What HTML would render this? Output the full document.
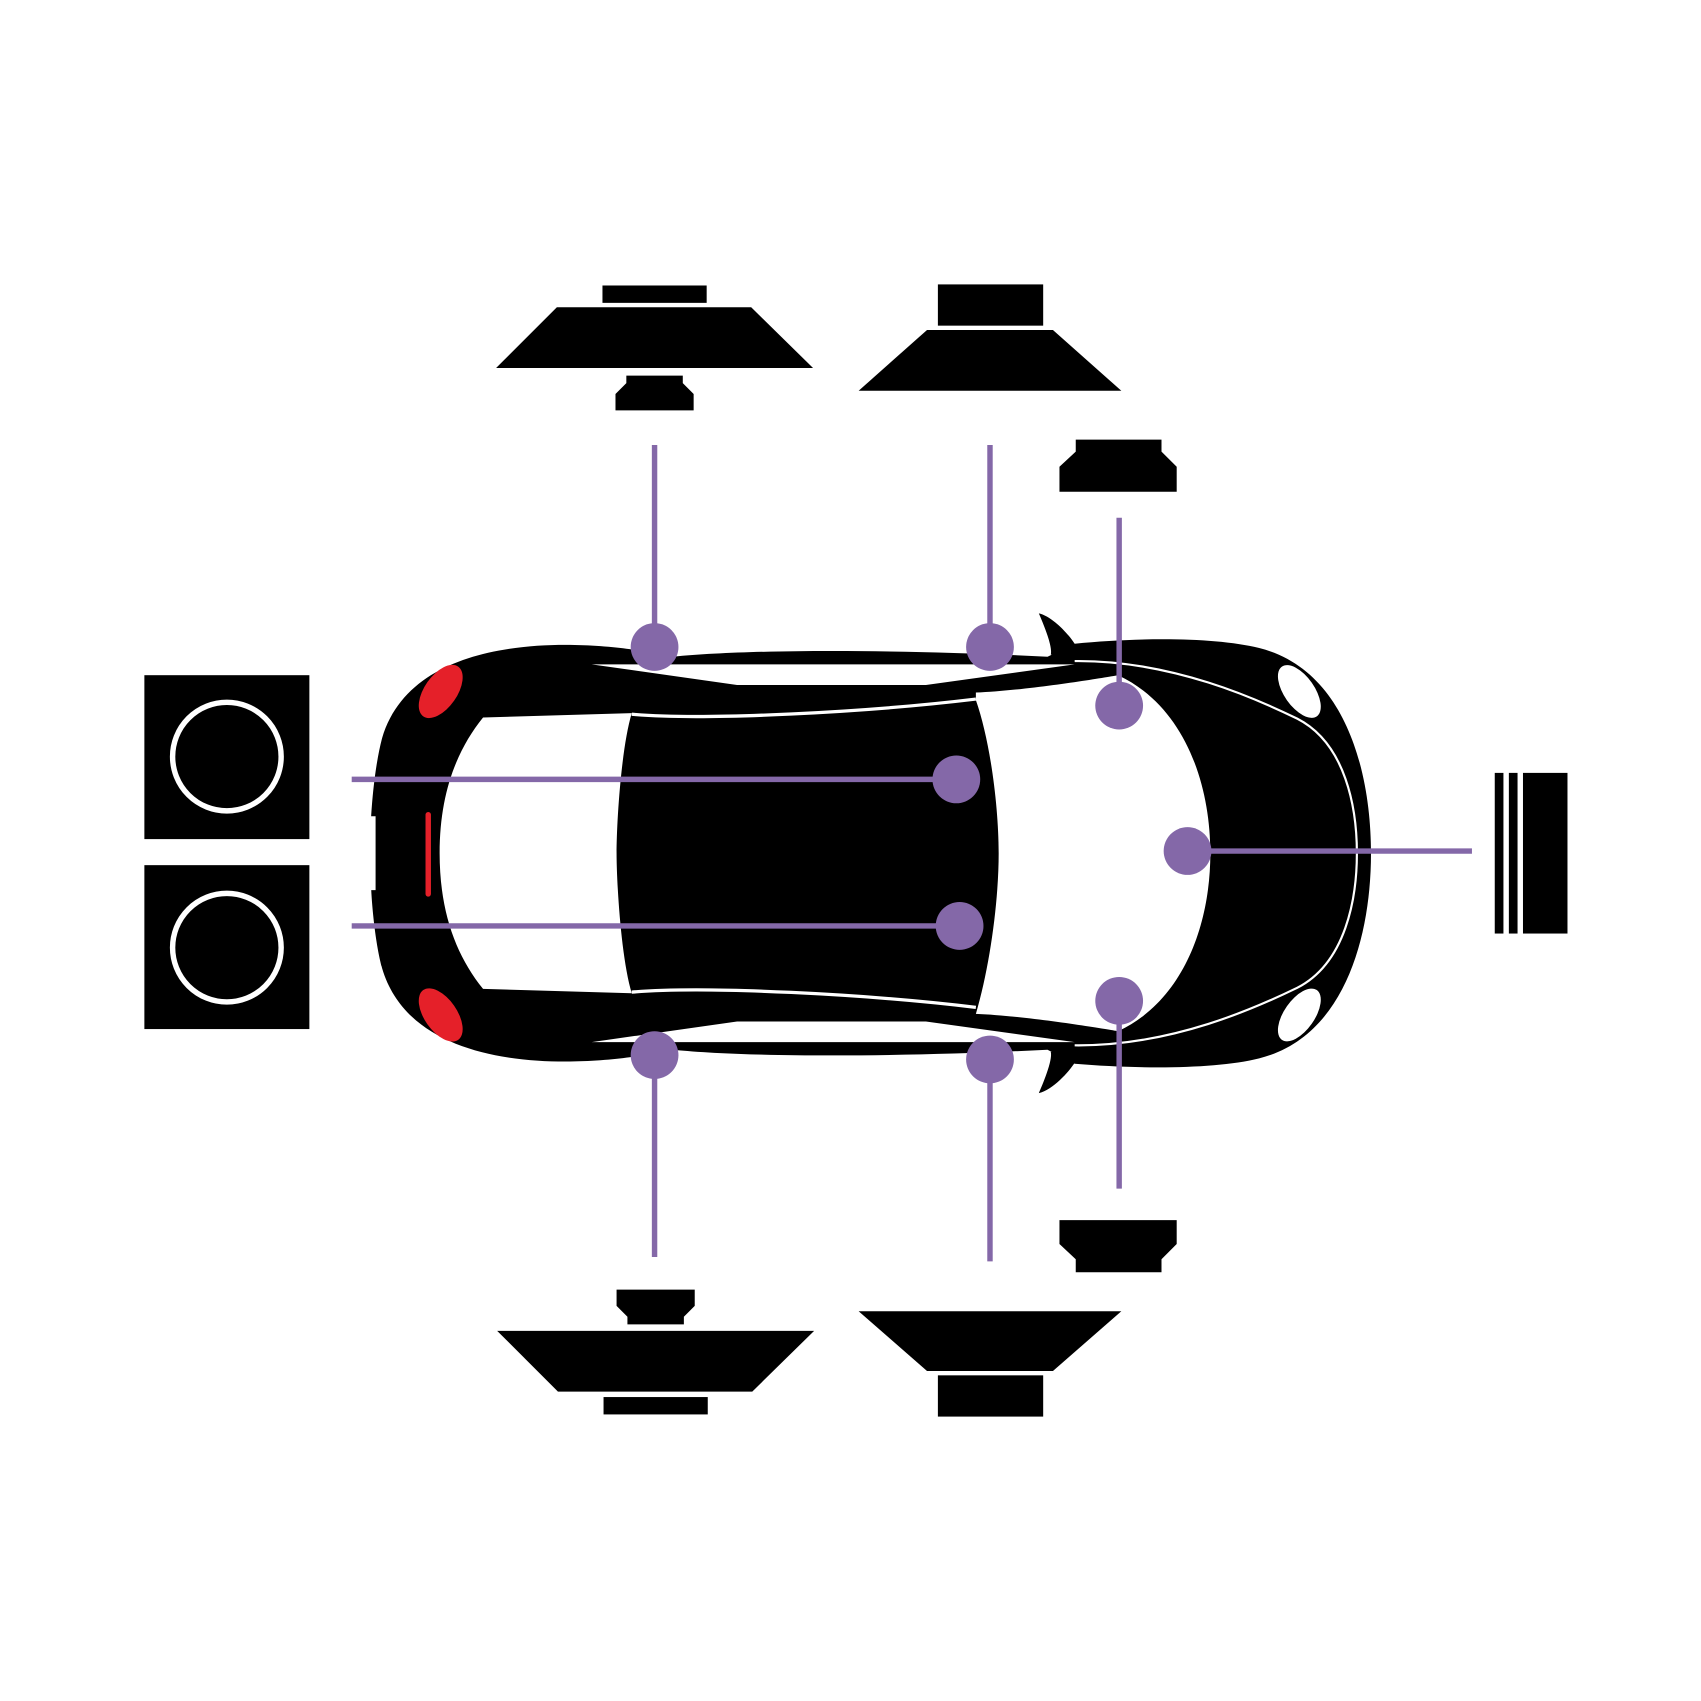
<!DOCTYPE html>
<html><head><style>html,body{margin:0;padding:0;background:#fff}svg{display:block}</style></head><body>
<svg width="1701" height="1701" viewBox="0 0 1567 1567" xmlns="http://www.w3.org/2000/svg">
<rect width="1567" height="1567" fill="#fff"/>
<rect x="555" y="263" width="96" height="16"/>
<polygon points="513,283 692,283 749,339 457,339"/>
<polygon points="577,346 629,346 629,353 639,363 639,378 567,378 567,363 577,353"/>
<rect x="864" y="262" width="97" height="38"/>
<polygon points="854,304 970,304 1033,360 791,360"/>
<polygon points="991,405 1070,405 1070,416 1084,430 1084,453 976,453 976,430 991,416"/>
<polygon points="976,1124 1084,1124 1084,1146 1070,1160 1070,1172 991,1172 991,1160 976,1146"/>
<polygon points="568,1188 640,1188 640,1203 630,1213 630,1220 578,1220 578,1213 568,1203"/>
<polygon points="458,1226 750,1226 693,1282 514,1282"/>
<rect x="556" y="1287" width="96" height="16"/>
<polygon points="791,1208 1033,1208 970,1263 854,1263"/>
<rect x="864" y="1267" width="97" height="38"/>
<rect x="133" y="622" width="152" height="151"/>
<circle cx="209" cy="697" r="50" fill="#000" stroke="#fff" stroke-width="5"/>
<rect x="133" y="797" width="152" height="151"/>
<circle cx="209" cy="873" r="50" fill="#000" stroke="#fff" stroke-width="5"/>
<rect x="1377" y="712" width="8" height="148"/>
<rect x="1390" y="712" width="8" height="148"/>
<rect x="1403" y="712" width="41" height="148"/>
<path d="M580,598 C520,590 380,585 352,680 C344,710 342,752 342,752 L346,752 L346,820 L342,820 C342,820 344,862 352,892 C380,987 520,982 580,974 L620,967 C700,975 850,973 965,967 L990,980 C1050,985 1120,985 1160,975 C1240,955 1263,860 1263,786 C1263,712 1240,617 1160,597 C1120,587 1050,587 990,593 L965,605 C850,599 700,597 620,605 Z"/>
<path d="M957,565 C970,568 985,585 990,593 L988,605 L968,603 C970,595 960,572 957,565 Z"/>
<path d="M957,1007 C970,1004 985,987 990,979 L988,967 L968,969 C970,977 960,1000 957,1007 Z"/>
<polygon points="545,612 990,612 853,631 679,631" fill="#fff"/>
<polygon points="545,960 990,960 853,941 679,941" fill="#fff"/>
<path d="M582,658 C650,664 800,656 899,644" stroke="#fff" stroke-width="3" fill="none"/>
<path d="M582,914 C650,908 800,916 899,928" stroke="#fff" stroke-width="3" fill="none"/>
<path d="M899,638 C950,636 1030,622 1030,622 C1090,650 1115,720 1115,786 C1115,852 1090,922 1030,950 C1030,950 950,936 899,934 C912,890 920,830 920,786 C920,742 912,682 899,645 Z" fill="#fff"/>
<path d="M990,609 C1080,608 1160,645 1195,662 C1240,685 1250,745 1250,786 C1250,827 1240,887 1195,910 C1160,927 1080,964 990,963" stroke="#fff" stroke-width="2" fill="none"/>
<path d="M445,661 L582,657 C572,690 568,760 568,786 C568,812 572,882 582,915 L445,911 C420,880 405,840 405,786 C405,732 420,692 445,661 Z" fill="#fff"/>
<ellipse cx="406" cy="637" rx="15" ry="28" fill="#e52029" transform="rotate(35 406 637)"/>
<ellipse cx="406" cy="935" rx="15" ry="28" fill="#e52029" transform="rotate(-35 406 935)"/>
<rect x="392" y="748" width="5" height="78" rx="2.5" fill="#e52029"/>
<ellipse cx="1197" cy="637" rx="14" ry="28" fill="#fff" transform="rotate(-35 1197 637)"/>
<ellipse cx="1197" cy="935" rx="14" ry="28" fill="#fff" transform="rotate(35 1197 935)"/>
<g stroke="#8468a8" stroke-width="5">
<line x1="603" y1="410" x2="603" y2="580"/>
<line x1="912" y1="410" x2="912" y2="580"/>
<line x1="1031" y1="477" x2="1031" y2="635"/>
<line x1="324" y1="718" x2="865" y2="718"/>
<line x1="324" y1="853" x2="868" y2="853"/>
<line x1="1100" y1="784" x2="1356" y2="784"/>
<line x1="1031" y1="935" x2="1031" y2="1095"/>
<line x1="603" y1="990" x2="603" y2="1158"/>
<line x1="912" y1="994" x2="912" y2="1162"/>
</g>
<g fill="#8468a8">
<circle cx="603" cy="596" r="22"/><circle cx="912" cy="596" r="22"/>
<circle cx="1031" cy="650" r="22"/><circle cx="881" cy="718" r="22"/>
<circle cx="884" cy="853" r="22"/><circle cx="1094" cy="784" r="22"/>
<circle cx="1031" cy="922" r="22"/><circle cx="603" cy="972" r="22"/>
<circle cx="912" cy="976" r="22"/>
</g>
</svg>
</body></html>
